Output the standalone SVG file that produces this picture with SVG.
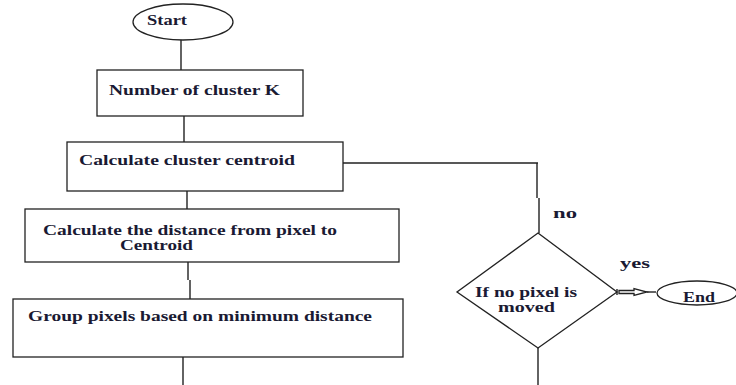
<svg xmlns="http://www.w3.org/2000/svg" width="736" height="385" viewBox="0 0 736 385">
<style>
.s{fill:#fff;stroke:#222;stroke-width:1.3}
.l{fill:none;stroke:#222;stroke-width:1.4}
text{font-family:"Liberation Serif","Times New Roman",serif;font-weight:bold;font-size:14px;fill:#1a1a33}
</style>
<rect width="736" height="385" fill="#fff"/>
<g id="connectors">
<path class="l" d="M181,40V70"/>
<path class="l" d="M184,116V142"/>
<path class="l" d="M187,191V209"/>
<path class="l" d="M188,262V280M190,280V299"/>
<path class="l" d="M183,357V385"/>
<path class="l" d="M343,163H538M537,163V198M539,198V233"/>
<path class="l" d="M538,348V385"/>
<path class="l" d="M647,292H656"/>
<polygon class="s" points="619,290.5 634,290.5 634,288.5 647,292 634,295.5 634,293.5 619,293.5"/>
<path class="l" d="M617,289V295"/>
<text x="553" y="218" textLength="24" lengthAdjust="spacingAndGlyphs">no</text>
<text x="620" y="268" textLength="30" lengthAdjust="spacingAndGlyphs">yes</text>
</g>
<g id="start">
<ellipse class="s" cx="183" cy="22" rx="50" ry="18"/>
<text x="147" y="25" textLength="40" lengthAdjust="spacingAndGlyphs">Start</text>
</g>
<g id="n1">
<rect class="s" x="97" y="70" width="206" height="46"/>
<text x="109" y="95" textLength="171" lengthAdjust="spacingAndGlyphs">Number of cluster K</text>
</g>
<g id="n2">
<rect class="s" x="67" y="142" width="276" height="49"/>
<text x="79" y="165" textLength="216" lengthAdjust="spacingAndGlyphs">Calculate cluster centroid</text>
</g>
<g id="n3">
<rect class="s" x="25" y="209" width="374" height="53"/>
<text x="43" y="235" textLength="294" lengthAdjust="spacingAndGlyphs">Calculate the distance from pixel to</text>
<text x="120" y="250" textLength="73" lengthAdjust="spacingAndGlyphs">Centroid</text>
</g>
<g id="n4">
<rect class="s" x="13" y="299" width="390" height="58"/>
<text x="28" y="321" textLength="344" lengthAdjust="spacingAndGlyphs">Group pixels based on minimum distance</text>
</g>
<g id="decision">
<polygon class="s" points="538,233 617,292 538,348 457,292"/>
<text x="475" y="297" textLength="102" lengthAdjust="spacingAndGlyphs">If no pixel is</text>
<text x="498" y="312" textLength="57" lengthAdjust="spacingAndGlyphs">moved</text>
</g>
<g id="end">
<ellipse class="s" cx="697" cy="293" rx="40" ry="12"/>
<text x="683" y="302" textLength="32" lengthAdjust="spacingAndGlyphs">End</text>
</g>
</svg>
